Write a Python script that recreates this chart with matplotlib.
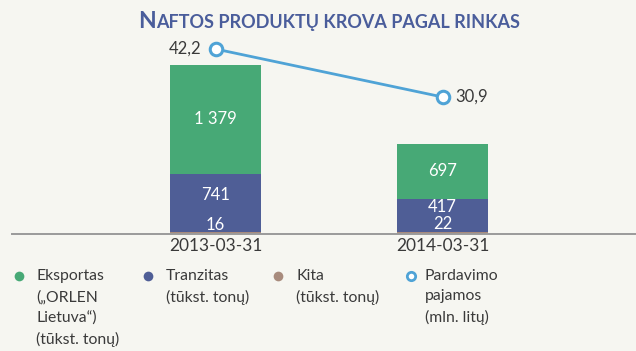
import numpy as np
import matplotlib
matplotlib.use("Agg")
from matplotlib import pyplot as plt
from matplotlib.lines import Line2D

plt.rcParams['font.family'] = ['Lato', 'DejaVu Sans']

# duomenys
datos = ["2013-03-31", "2014-03-31"]
eksportas = [1379, 697]
tranzitas = [741, 417]
kita = [16, 22]
pajamos = [42.2, 30.9]

spalvos = {"eksportas": "#47a976", "tranzitas": "#4f5e96", "kita": "#a88b7d",
           "pajamos": "#4fa3d6"}
fonas = "#f6f6f1"
tekstas = "#3a3a3a"

W, H = 636, 351
fig = plt.figure(figsize=(W / 100, H / 100), dpi=100, facecolor=fonas)

# asys pikseliais
x0, x1 = 12, 636
y_apacia, y_virsus = 233.5, 40
ax = fig.add_axes([x0 / W, (H - y_apacia) / H, (x1 - x0) / W, (y_apacia - y_virsus) / H])
ax.set_facecolor(fonas)

x = np.arange(len(datos))
plotis = 0.40
ax.bar(x, kita, plotis, color=spalvos["kita"])
ax.bar(x, tranzitas, plotis, bottom=kita, color=spalvos["tranzitas"])
apacia2 = np.array(kita) + np.array(tranzitas)
ax.bar(x, eksportas, plotis, bottom=apacia2, color=spalvos["eksportas"])

ax.set_xlim(-0.8965, 1.852)
ax.set_ylim(0, 2446)

for s in ["top", "right", "left"]:
    ax.spines[s].set_visible(False)
ax.spines["bottom"].set_color("#9a9a9a")
ax.spines["bottom"].set_linewidth(1.4)
ax.set_yticks([])
ax.set_xticks(x)
ax.set_xticklabels(datos, fontsize=12.5, color=tekstas)
ax.tick_params(axis="x", length=0, pad=3.5)

def fmt(v):
    return f"{v:,}".replace(",", " ")

# reikšmės stulpeliuose
for i in x:
    ax.text(i, apacia2[i] + eksportas[i] / 2, fmt(eksportas[i]), ha="center", va="center",
            color="white", fontsize=12)
    ax.text(i, kita[i] + tranzitas[i] / 2 + 100, fmt(tranzitas[i]), ha="center", va="center",
            color="white", fontsize=12)
    ax.text(i, kita[i] + 95, fmt(kita[i]), ha="center", va="center",
            color="white", fontsize=12, clip_on=True)

# pajamos - antra ašis
ax2 = ax.twinx()
ax2.set_ylim(-1.23, 44.32)
ax2.axis("off")
ax2.plot(x, pajamos, color=spalvos["pajamos"], lw=2, marker="o", ms=9,
         mfc="white", mec=spalvos["pajamos"], mew=2.2, zorder=5)
ax2.annotate(f"{pajamos[0]:.1f}".replace(".", ","), (x[0], pajamos[0]), xytext=(-10, 0),
             textcoords="offset points", ha="right", va="center", fontsize=12, color=tekstas)
ax2.annotate(f"{pajamos[1]:.1f}".replace(".", ","), (x[1], pajamos[1]), xytext=(9, 0),
             textcoords="offset points", ha="left", va="center", fontsize=12, color=tekstas)

# pavadinimas mažosiomis kapitėlėmis
tit_spalva = "#4a5d9b"
t1 = fig.text(0, 1 - 28 / H, "N", fontsize=16.5, fontweight="bold", color=tit_spalva, va="baseline")
t2 = fig.text(0, 1 - 28 / H, "AFTOS PRODUKTŲ KROVA PAGAL RINKAS", fontsize=13,
              fontweight="bold", color=tit_spalva, va="baseline")
fig.canvas.draw()
r = fig.canvas.get_renderer()
w1 = t1.get_window_extent(r).width
w2 = t2.get_window_extent(r).width
kairė = 329 - (w1 + w2) / 2
t1.set_x(kairė / W)
t2.set_x((kairė + w1) / W)

# legenda
legenda = [
    ("Eksportas\n(„ORLEN\nLietuva“)\n(tūkst. tonų)", spalvos["eksportas"], True, 19, 36),
    ("Tranzitas\n(tūkst. tonų)", spalvos["tranzitas"], True, 148, 166),
    ("Kita\n(tūkst. tonų)", spalvos["kita"], True, 278, 296),
    ("Pardavimo\npajamos\n(mln. litų)", spalvos["pajamos"], False, 411, 425),
]
for tekst, sp, pilnas, mx, tx in legenda:
    fig.add_artist(Line2D([mx / W], [1 - 276 / H], marker="o", ms=7 if pilnas else 6,
                          color=sp, mfc=sp if pilnas else "white", mec=sp,
                          mew=0 if pilnas else 2, lw=0, transform=fig.transFigure))
    fig.text(tx / W, 1 - 269 / H, tekst, fontsize=11.3, color=tekstas, va="top",
             linespacing=1.58)

fig.savefig("out.png", dpi=100, facecolor=fonas)
